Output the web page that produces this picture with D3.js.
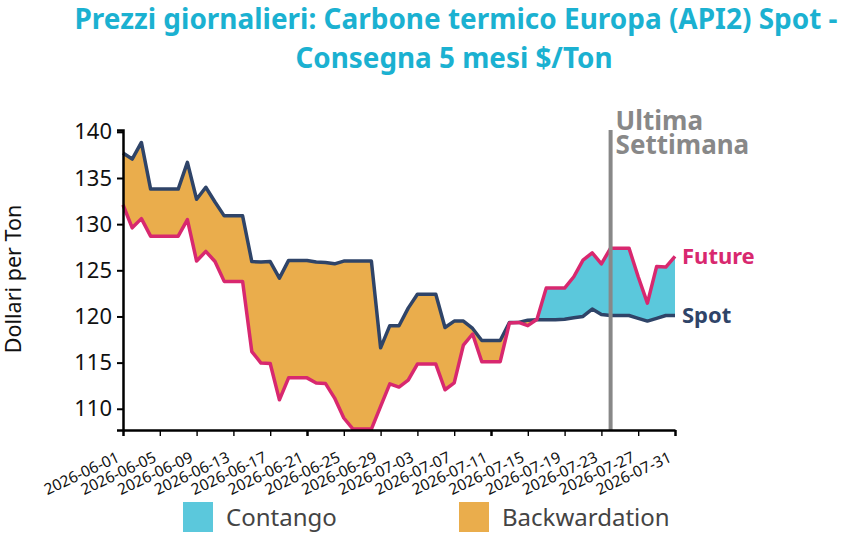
<!DOCTYPE html>
<html>
<head>
    <meta charset="utf-8">
    <title>Carbone termico Europa (API2)</title>
    <script src="https://d3js.org/d3.v7.min.js"></script>
    <style>
        body {margin: 0; background: #ffffff;}
        svg {display: block; font-family: "Noto Sans", "Open Sans", sans-serif;}
    </style>
</head>
<body>
<script>
    // daily data, 2026-06-01 .. 2026-07-31
    const startDate = "2026-06-01";
    const endDate = "2026-07-31";
    const markerDate = "2026-07-24";   // "Ultima Settimana" line

    const spot = [
        137.7, 137.05, 138.85, 133.8, 133.8, 133.8, 133.8, 136.7, 132.7, 134.0,
        132.4, 130.9, 130.9, 130.9, 125.95, 125.9, 125.95, 124.15, 126.07, 126.07,
        126.07, 125.9, 125.85, 125.7, 126.0, 126.0, 126.0, 126.0, 116.6, 119.0,
        119.0, 120.9, 122.4, 122.4, 122.4, 118.8, 119.5, 119.5, 118.7, 117.4,
        117.4, 117.4, 119.35, 119.35, 119.6, 119.65, 119.65, 119.65, 119.7, 119.85,
        120.0, 120.8, 120.2, 120.1, 120.1, 120.1, 119.8, 119.5, 119.8, 120.1,
        120.1];
    const future = [
        132.1, 129.6, 130.6, 128.7, 128.7, 128.7, 128.7, 130.5, 126.0, 127.05,
        125.96, 123.8, 123.8, 123.8, 116.2, 114.95, 114.9, 110.97, 113.35, 113.35,
        113.35, 112.8, 112.75, 111.16, 109.0, 107.8, 107.8, 107.8, 110.25, 112.7,
        112.35, 113.1, 114.84, 114.84, 114.84, 112.06, 112.8, 116.9, 118.1, 115.1,
        115.1, 115.1, 119.28, 119.35, 119.0, 119.7, 123.07, 123.07, 123.07, 124.3,
        126.1, 126.9, 125.7, 127.4, 127.4, 127.4, 124.3, 121.45, 125.4, 125.35,
        126.5];

    const yTicks = [110, 115, 120, 125, 130, 135, 140];
    const legendLabels = ["Contango", "Backwardation"];
    const legendColors = ["#5bc8dc", "#eaad4c"];

    const width = 855, height = 543;
    const parse = d3.utcParse("%Y-%m-%d");
    const fmt = d3.utcFormat("%Y-%m-%d");
    const t0 = parse(startDate), t1 = parse(endDate);
    const days = d3.utcDay.range(t0, d3.utcDay.offset(t1, 1));
    const data = days.map((d, i) => ({date: d, spot: spot[i], future: future[i]}));

    const svg = d3.select("body").append("svg")
        .attr("width", width)
        .attr("height", height);

    const x = d3.scaleUtc().domain([t0, t1]).range([123, 675]);
    const y = d3.scaleLinear().domain([107.7, 140.2]).range([430, 130]);
    const yTop = y.range()[1], yBottom = y.range()[0];

    // title
    const title = svg.append("g")
        .attr("fill", "#1bb1d1")
        .attr("font-weight", "bold")
        .attr("font-size", "28px")
        .attr("text-anchor", "middle");
    title.append("text").attr("x", 456).attr("y", 29)
        .attr("textLength", 763).attr("lengthAdjust", "spacingAndGlyphs")
        .text("Prezzi giornalieri: Carbone termico Europa (API2) Spot -");
    title.append("text").attr("x", 454).attr("y", 68)
        .attr("textLength", 317).attr("lengthAdjust", "spacingAndGlyphs")
        .text("Consegna 5 mesi $/Ton");

    // clip regions above / below the future line (difference chart)
    const defs = svg.append("defs");
    defs.append("clipPath").attr("id", "clip-above")
        .append("path")
        .attr("d", d3.area().x(d => x(d.date)).y0(yTop).y1(d => y(d.future))(data));
    defs.append("clipPath").attr("id", "clip-below")
        .append("path")
        .attr("d", d3.area().x(d => x(d.date)).y0(yBottom).y1(d => y(d.future))(data));

    const between = d3.area()
        .x(d => x(d.date))
        .y0(d => y(d.spot))
        .y1(d => y(d.future));

    // backwardation: spot above future
    svg.append("path").datum(data)
        .attr("clip-path", "url(#clip-above)")
        .attr("fill", legendColors[1])
        .attr("d", between);
    // contango: future above spot
    svg.append("path").datum(data)
        .attr("clip-path", "url(#clip-below)")
        .attr("fill", legendColors[0])
        .attr("d", between);

    const lineSpot = d3.line().x(d => x(d.date)).y(d => y(d.spot));
    const lineFuture = d3.line().x(d => x(d.date)).y(d => y(d.future));

    svg.append("path").datum(data)
        .attr("fill", "none")
        .attr("stroke", "#2f4468")
        .attr("stroke-width", 3.5)
        .attr("stroke-linejoin", "round")
        .attr("d", lineSpot);
    svg.append("path").datum(data)
        .attr("fill", "none")
        .attr("stroke", "#d8286f")
        .attr("stroke-width", 3.5)
        .attr("stroke-linejoin", "round")
        .attr("d", lineFuture);

    // last week marker
    const mx = x(parse(markerDate));
    svg.append("line")
        .attr("x1", mx).attr("x2", mx)
        .attr("y1", yTop).attr("y2", yBottom)
        .attr("stroke", "#888888")
        .attr("stroke-width", 4);
    const mLabel = svg.append("g")
        .attr("fill", "#888888")
        .attr("font-weight", "bold")
        .attr("font-size", "26px");
    mLabel.append("text").attr("x", mx + 5).attr("y", 130).text("Ultima");
    mLabel.append("text").attr("x", mx + 5).attr("y", 154).text("Settimana");

    // end labels
    const last = data[data.length - 1];
    svg.append("text")
        .attr("x", x(last.date) + 7).attr("y", y(last.future)).attr("dy", "0.35em")
        .attr("fill", "#d8286f").attr("font-weight", "bold").attr("font-size", "22px")
        .text("Future");
    svg.append("text")
        .attr("x", x(last.date) + 7).attr("y", y(last.spot)).attr("dy", "0.35em")
        .attr("fill", "#2f4468").attr("font-weight", "bold").attr("font-size", "22px")
        .text("Spot");

    // y axis
    const yAxis = svg.append("g")
        .attr("transform", "translate(123,0)")
        .call(d3.axisLeft(y).tickValues(yTicks).tickSize(6).tickSizeOuter(6).tickPadding(5));
    yAxis.select(".domain").attr("stroke", "#000").attr("stroke-width", 2.5);
    yAxis.selectAll(".tick line").attr("stroke", "#000").attr("stroke-width", 2);
    yAxis.selectAll(".tick text")
        .attr("font-family", "Noto Sans, sans-serif")
        .attr("font-size", "22px")
        .attr("fill", "#111");

    svg.append("text")
        .attr("transform", "translate(21,279) rotate(-90)")
        .attr("text-anchor", "middle")
        .attr("font-size", "21.5px")
        .attr("fill", "#111")
        .text("Dollari per Ton");

    // x axis: a tick every 4 days, heavier one every 20
    const xTicks = d3.range(0, 16).map(i => d3.utcDay.offset(t0, i * 4));
    const xAxis = svg.append("g")
        .attr("transform", "translate(0," + yBottom + ")")
        .call(d3.axisBottom(x).tickValues(xTicks).tickFormat(fmt).tickSize(6).tickSizeOuter(0));
    xAxis.select(".domain").attr("stroke", "#000").attr("stroke-width", 2.5);
    xAxis.selectAll(".tick line")
        .attr("stroke", "#000")
        .attr("stroke-width", (d, i) => i % 5 === 0 ? 2.5 : 1.4);
    xAxis.selectAll(".tick text")
        .attr("font-family", "Noto Sans, sans-serif")
        .attr("font-size", "15.5px")
        .attr("fill", "#111")
        .attr("x", 0).attr("y", 0).attr("dy", null)
        .attr("text-anchor", "end")
        .attr("transform", "translate(-3,31) rotate(-25)");

    // legend
    const legend = svg.append("g");
    const legendX = [183, 459];
    legendLabels.forEach((lab, i) => {
        legend.append("rect")
            .attr("x", legendX[i]).attr("y", 502)
            .attr("width", 30).attr("height", 30)
            .attr("fill", legendColors[i]);
        legend.append("text")
            .attr("x", legendX[i] + 43).attr("y", 526)
            .attr("font-size", "24px")
            .attr("fill", "#444")
            .text(lab);
    });
</script>
</body>
</html>
